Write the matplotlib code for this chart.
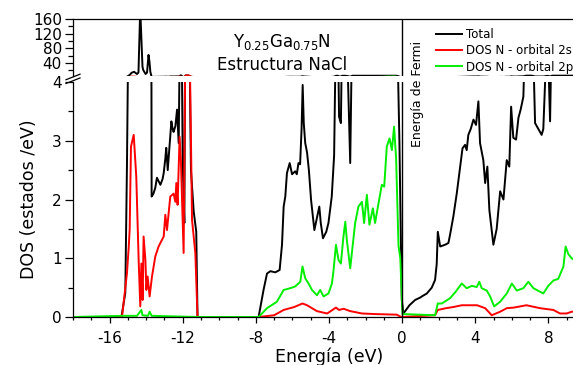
import numpy as np
import matplotlib
matplotlib.use('Agg')
import matplotlib.pyplot as plt
from matplotlib.lines import Line2D

plt.rcParams['font.family'] = ['DejaVu Sans']
plt.rcParams['axes.unicode_minus'] = False
plt.rcParams['mathtext.fontset'] = 'dejavusans'

# Total DOS (energy in eV, states/eV)
e_total = [-18, -15.35, -15.14, -15.05, -14.97, -14.9, -14.79, -14.66, -14.55, -14.5, -14.42,
           -14.34, -14.3, -14.2, -14.16, -14.03, -13.95, -13.87, -13.82, -13.77, -13.7,
           -13.6, -13.5, -13.41, -13.3, -13.22, -13.1, -13.04, -12.95, -12.9, -12.82,
           -12.7, -12.62, -12.55, -12.5, -12.4, -12.31, -12.22, -12.1, -12.0, -11.91,
           -11.85, -11.68, -11.55, -11.4, -11.26, -11.19,
           -7.85, -7.58, -7.39, -7.2, -6.94, -6.7, -6.57, -6.48, -6.39, -6.3, -6.15,
           -6.02, -5.85, -5.76, -5.67, -5.58, -5.5, -5.44, -5.38, -5.3, -5.2, -5.1,
           -4.98, -4.8, -4.65, -4.53, -4.45, -4.33, -4.15, -4.03, -3.85, -3.72, -3.62,
           -3.53, -3.45, -3.35, -3.27, -3.12, -3.0, -2.84, -2.72, -0.3, -0.15, -0.02,
           0.07, 0.4, 0.71, 0.98, 1.13, 1.35, 1.62, 1.8, 1.89, 1.95, 2.08, 2.35, 2.53,
           2.62, 2.8, 2.99, 3.17, 3.3, 3.44, 3.53, 3.62, 3.75, 3.9, 4.04, 4.17, 4.26,
           4.44, 4.54, 4.66, 4.77, 4.99, 5.17, 5.36, 5.54, 5.72, 5.86, 5.96, 6.08,
           6.23, 6.36, 6.48, 6.63, 6.78, 7.09, 7.27, 7.45, 7.63, 7.72, 7.94, 8.09,
           8.21, 10]
dos_total = [0, 0, 0.41, 2.56, 5, 7.3, 13.5, 16, 12, 10, 14,
             157, 157, 30, 21, 10, 14, 62, 44, 16, 2.05,
             2.1, 2.2, 2.37, 2.3, 2.25, 2.35, 2.45, 2.7, 2.88, 2.5,
             3.0, 3.33, 3.2, 3.15, 3.25, 3.53, 2.96, 6.5, 2.6, 1.6,
             6, 6, 2.5, 1.8, 1.45, 0,
             0, 0.46, 0.74, 0.78, 0.76, 0.8, 1.23, 1.88, 2.05, 2.45, 2.62,
             2.43, 2.48, 2.43, 2.62, 2.6, 3.2, 3.95, 3.3, 2.96, 2.8, 2.5,
             1.99, 1.48, 1.7, 1.88, 1.6, 1.34, 1.45, 1.6, 2.05, 2.75, 5.0,
             5.3, 3.41, 3.3, 5.2, 5.2, 4.5, 2.62, 5.3, 5.3, 3.0, 0.29,
             0.06, 0.2, 0.29, 0.33, 0.36, 0.4, 0.5, 0.63, 0.9, 1.45, 1.2, 1.23, 1.26,
             1.4, 1.71, 2.11, 2.56, 2.87, 2.93, 2.84, 3.1, 3.2, 3.36, 3.27, 3.67, 2.96,
             2.67, 2.28, 2.56, 1.82, 1.23, 1.5, 2.14, 2.0, 2.67, 2.56, 3.58, 3.05,
             3.02, 3.39, 3.53, 3.75, 5.5, 5.5, 3.3, 3.2, 3.1, 3.2, 5.0, 3.33,
             5.5, 5.5]

# N 2s orbital
e_s = [-18, -15.32, -15.05, -14.95, -14.9, -14.83, -14.68, -14.54, -14.41, -14.32, -14.26,
       -14.19, -14.14, -14.04, -13.99, -13.92, -13.81, -13.68, -13.5, -13.32, -13.04,
       -12.95, -12.86, -12.68, -12.5, -12.4, -12.35, -12.28, -12.17, -12.1, -11.95,
       -11.82, -11.68, -11.49, -11.31, -11.19,
       -7.85, -7.0, -6.48, -5.9, -5.45, -5.2, -4.66, -4.1, -3.62, -3.45, -3.2, -2.84,
       -2.2, -1.5, -0.3, -0.05,
       1.8, 1.95, 2.4, 2.8, 3.26, 4.1, 4.54, 4.9, 5.36, 5.72, 6.1, 6.8, 7.54, 8.27,
       8.63, 9.0, 9.27, 10]
dos_s = [0, 0, 0.74, 1.2, 1.5, 2.9, 3.1, 2.39, 0.97, 0.18, 0.91,
         0.29, 1.37, 0.97, 0.46, 0.69, 0.35, 0.69, 1.03, 1.2, 1.37,
         1.74, 1.48, 2.05, 2.1, 1.96, 2.28, 1.91, 3.07, 2.67, 1.09,
         6, 6, 1.65, 1.09, 0,
         0, 0.03, 0.12, 0.17, 0.23, 0.2, 0.1, 0.06, 0.16, 0.12, 0.14, 0.1,
         0.06, 0.05, 0.04, 0,
         0.03, 0.12, 0.15, 0.17, 0.2, 0.2, 0.15, 0.03, 0.09, 0.15, 0.16, 0.2, 0.15, 0.12,
         0.06, 0.06, 0.09, 0.1]

# N 2p orbital
e_p = [-18, -15.3, -14.5, -14.26, -14.2, -13.9, -13.81, -13.7, -11.2,
       -7.85, -7.39, -6.85, -6.48, -6.12, -5.85, -5.57, -5.45, -5.3, -5.12, -4.93,
       -4.66, -4.48, -4.3, -4.03, -3.84, -3.75, -3.62, -3.48, -3.35, -3.21, -3.11,
       -3.02, -2.84, -2.71, -2.57, -2.39, -2.2, -2.08, -1.93, -1.79, -1.6, -1.48,
       -1.29, -1.11, -0.98, -0.84, -0.69, -0.56, -0.44, -0.33, -0.2, -0.1, 0.02,
       1.8, 1.95, 2.17, 2.62, 2.9, 3.26, 3.53, 3.81, 4.08, 4.22, 4.35, 4.63, 4.81,
       5.03, 5.36, 5.72, 6.0, 6.27, 6.63, 6.9, 7.18, 7.54, 7.72, 7.99, 8.27, 8.54,
       8.82, 8.94, 9.09, 9.27, 9.5, 10]
dos_p = [0, 0.02, 0.02, 0.12, 0.03, 0.02, 0.09, 0.02, 0,
         0, 0.15, 0.26, 0.46, 0.49, 0.52, 0.6, 0.86, 0.66, 0.57, 0.46,
         0.37, 0.46, 0.35, 0.4, 0.57, 0.8, 1.23, 0.97, 0.91, 1.37, 1.62,
         1.3, 0.83, 1.2, 1.6, 1.88, 1.96, 1.6, 2.08, 1.57, 1.85, 1.6,
         1.94, 2.25, 2.22, 2.9, 3.04, 2.84, 3.24, 2.7, 1.22, 1.0, 0.05,
         0.03, 0.23, 0.23, 0.32, 0.42, 0.57, 0.49, 0.53, 0.51, 0.6, 0.49, 0.45, 0.35,
         0.18, 0.26, 0.4, 0.57, 0.45, 0.49, 0.6, 0.49, 0.43, 0.4, 0.53, 0.62, 0.65,
         0.86, 1.2, 1.07, 1.0, 0.95, 1.0]

x_ticks = [-16, -12, -8, -4, 0, 4, 8]
low_ticks = [0, 1, 2, 3, 4]
up_ticks = [40, 80, 120, 160]

W, H = 573, 365
fig = plt.figure(figsize=(W / 100, H / 100), dpi=100)
ax_lo = fig.add_axes([73 / W, 48 / H, 512 / W, 235 / H])
ax_up = fig.add_axes([73 / W, (H - 76.2) / H, 512 / W, 57.2 / H])

series = [(e_total, dos_total, 'black', 'Total'),
          (e_s, dos_s, '#ff0000', 'DOS N - orbital 2s'),
          (e_p, dos_p, '#00ee00', 'DOS N - orbital 2p')]

for ax in (ax_lo, ax_up):
    for e, d, c, lab in series:
        ax.plot(e, d, color=c, lw=1.4)
    ax.axvline(0, color='black', lw=1.0)
    ax.set_xlim(-18, 10)
    ax.spines['right'].set_visible(False)
    for s in ax.spines.values():
        s.set_linewidth(0.9)
    ax.tick_params(axis='y', which='major', direction='out', length=6, width=0.9,
                   labelsize=11, pad=2)
    ax.tick_params(axis='y', which='minor', direction='out', length=3.5, width=0.9)

ax_lo.set_ylim(0, 4)
ax_lo.spines['top'].set_visible(False)
ax_lo.set_yticks(low_ticks)
ax_lo.set_yticks(np.arange(0.5, 4, 1), minor=True)
ax_lo.set_xticks(x_ticks)
ax_lo.set_xticks(np.arange(-18, 11, 1), minor=True)
ax_lo.tick_params(axis='x', which='major', direction='out', length=4, width=0.9,
                  labelsize=11, pad=6)
ax_lo.tick_params(axis='x', which='minor', direction='out', length=2.5, width=0.9)
ax_lo.set_xlabel('Energía (eV)', fontsize=12.5, labelpad=1)
ax_lo.set_ylabel('DOS (estados /eV)', fontsize=12.5, labelpad=10)

ax_up.set_ylim(4, 160)
ax_up.spines['bottom'].set_visible(False)
ax_up.set_yticks(up_ticks)
ax_up.set_yticks([20, 60, 100, 140], minor=True)
ax_up.set_xticks([])
ax_up.tick_params(axis='x', which='both', bottom=False, labelbottom=False)

# axis break marks
for dy in (0, 3.8):
    fig.add_artist(Line2D([66 / W, 80 / W], [(H - 83.5 + dy) / H, (H - 78 + dy) / H],
                          color='black', lw=0.9))

fig.text(282 / W, (H - 47) / H, r'Y$_{0.25}$Ga$_{0.75}$N', fontsize=12,
         ha='center', va='baseline')
fig.text(282 / W, (H - 70) / H, 'Estructura NaCl', fontsize=12,
         ha='center', va='baseline')
fig.text(418 / W, (H - 94) / H, 'Energía de Fermi', fontsize=9, rotation=90,
         ha='center', va='center')

handles = [Line2D([], [], color=c, lw=1.4) for _, _, c, _ in series]
fig.legend(handles, [s[3] for s in series], loc='upper left',
           bbox_to_anchor=(436 / W, (H - 28) / H), frameon=False, fontsize=8.5,
           handlelength=2.2, handletextpad=0.3, labelspacing=0.28,
           borderpad=0, borderaxespad=0)

fig.savefig('out.png', dpi=100)
